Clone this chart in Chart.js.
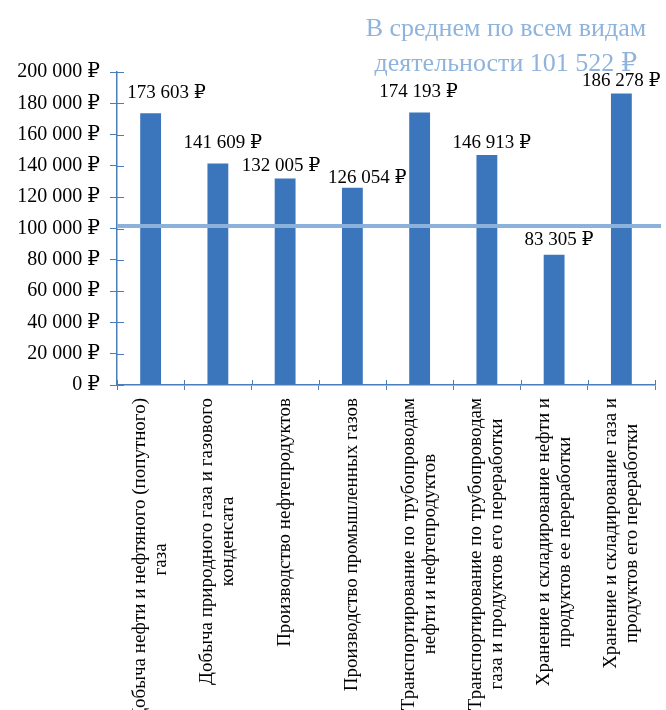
<!DOCTYPE html>
<html lang="ru">
<head>
<meta charset="utf-8">
<title>Средняя зарплата</title>
<script src="https://cdn.jsdelivr.net/npm/chart.js@4.4.1/dist/chart.umd.min.js"></script>
<style>
  html, body { margin: 0; padding: 0; background: #fff; }
  #wrap { width: 666px; height: 710px; }
</style>
</head>
<body>
<div id="wrap"><canvas id="salaryChart" width="666" height="710"></canvas></div>
<script>
// данные с картинки
const categories = [
    ['Добыча нефти и нефтяного (попутного)', 'газа'],
    ['Добыча природного газа и газового', 'конденсата'],
    ['Производство нефтепродуктов'],
    ['Производство промышленных газов'],
    ['Транспортирование по трубопроводам', 'нефти и нефтепродуктов'],
    ['Транспортирование по трубопроводам', 'газа и продуктов его переработки'],
    ['Хранение и складирование нефти и', 'продуктов ее переработки'],
    ['Хранение и складирование газа и', 'продуктов его переработки']
];
const salaries = [173603, 141609, 132005, 126054, 174193, 146913, 83305, 186278];
const averageSalary = 101522;
const titleLines = ['В среднем по всем видам', 'деятельности 101 522 ₽'];
const yMin = 0;
const yMax = 200000;
const yStep = 20000;

// стиль
const SERIF = '"Liberation Serif", "DejaVu Serif", serif';
const BAR_COLOR = '#3b76bc';
const AXIS_COLOR = '#4a7ebb';
const AVG_COLOR = '#8cb1da';
const TITLE_COLOR = '#8fb4dc';
// сдвиг подписей значений относительно верха столбика [dx, dy]
const valueLabelShift = [[16, 20], [5, 20], [-4, 12], [15, 10], [-1, 20], [5, 12], [5, 15], [0, 12]];

function rub(v) {
    return String(v).replace(/\B(?=(\d{3})+(?!\d))/g, ' ') + ' ₽';
}

function seg(ctx, x1, y1, x2, y2) {
    ctx.beginPath();
    ctx.moveTo(x1, y1);
    ctx.lineTo(x2, y2);
    ctx.stroke();
}

const overlay = {
    id: 'overlay',
    afterDatasetsDraw(chart) {
        const { ctx, chartArea: a, scales: { x, y } } = chart;
        ctx.save();

        // внутренние половинки засечек
        ctx.strokeStyle = AXIS_COLOR;
        ctx.lineWidth = 1;
        y.ticks.forEach(t => {
            const py = Math.round(y.getPixelForValue(t.value)) + 0.5;
            seg(ctx, a.left, py, a.left + 7, py);
        });
        const step = (a.right - a.left) / salaries.length;
        for (let i = 0; i <= salaries.length; i++) {
            const px = Math.round(a.left + i * step) + 0.5;
            seg(ctx, px, a.bottom, px, a.bottom - 5);
        }

        // линия среднего
        const ay = y.getPixelForValue(averageSalary);
        ctx.strokeStyle = AVG_COLOR;
        ctx.lineWidth = 4;
        seg(ctx, a.left, ay, a.right + 6, ay);

        // подписи значений
        ctx.fillStyle = '#000';
        ctx.font = '19px ' + SERIF;
        ctx.textAlign = 'center';
        ctx.textBaseline = 'middle';
        chart.getDatasetMeta(0).data.forEach((bar, i) => {
            const [dx, dy] = valueLabelShift[i];
            ctx.fillText(rub(salaries[i]), bar.x + dx, bar.y - dy);
        });

        // подписи категорий (повернуты)
        ctx.font = '19px ' + SERIF;
        const lineH = 21;
        const top = a.bottom + 13;
        categories.forEach((lines, i) => {
            const cx = x.getPixelForValue(i);
            const maxW = Math.max(...lines.map(l => ctx.measureText(l).width));
            lines.forEach((line, j) => {
                const lx = cx + (j - (lines.length - 1) / 2) * lineH;
                ctx.save();
                ctx.translate(lx, top + maxW / 2);
                ctx.rotate(-Math.PI / 2);
                ctx.fillText(line, 0, 0);
                ctx.restore();
            });
        });

        // заголовок
        ctx.fillStyle = TITLE_COLOR;
        ctx.font = '26px ' + SERIF;
        const tx = a.left + (a.right - a.left) * 0.723;
        titleLines.forEach((t, j) => ctx.fillText(t, tx, 29 + j * 35));

        ctx.restore();
    }
};

new Chart(document.getElementById('salaryChart'), {
    type: 'bar',
    data: {
        labels: categories,
        datasets: [{
            data: salaries,
            backgroundColor: BAR_COLOR,
            barPercentage: 0.31,
            categoryPercentage: 1
        }]
    },
    options: {
        responsive: false,
        animation: false,
        events: [],
        layout: { padding: { top: 72, right: 11, left: 0, bottom: 0 } },
        plugins: {
            legend: { display: false },
            tooltip: { enabled: false }
        },
        scales: {
            x: {
                offset: true,
                ticks: { display: false },
                grid: { display: true, offset: true, drawOnChartArea: false, drawTicks: true, tickLength: 5, color: AXIS_COLOR },
                border: { display: true, color: AXIS_COLOR, width: 1.5 },
                afterFit: s => { s.height = 325; }
            },
            y: {
                min: yMin,
                max: yMax,
                ticks: {
                    stepSize: yStep,
                    padding: 10,
                    color: '#000',
                    font: { family: SERIF, size: 20 },
                    callback: v => rub(v)
                },
                grid: { display: true, drawOnChartArea: false, drawTicks: true, tickLength: 7, color: AXIS_COLOR },
                border: { display: true, color: AXIS_COLOR, width: 1.5 },
                afterFit: s => { s.width = 117; }
            }
        }
    },
    plugins: [overlay]
});
</script>
</body>
</html>
